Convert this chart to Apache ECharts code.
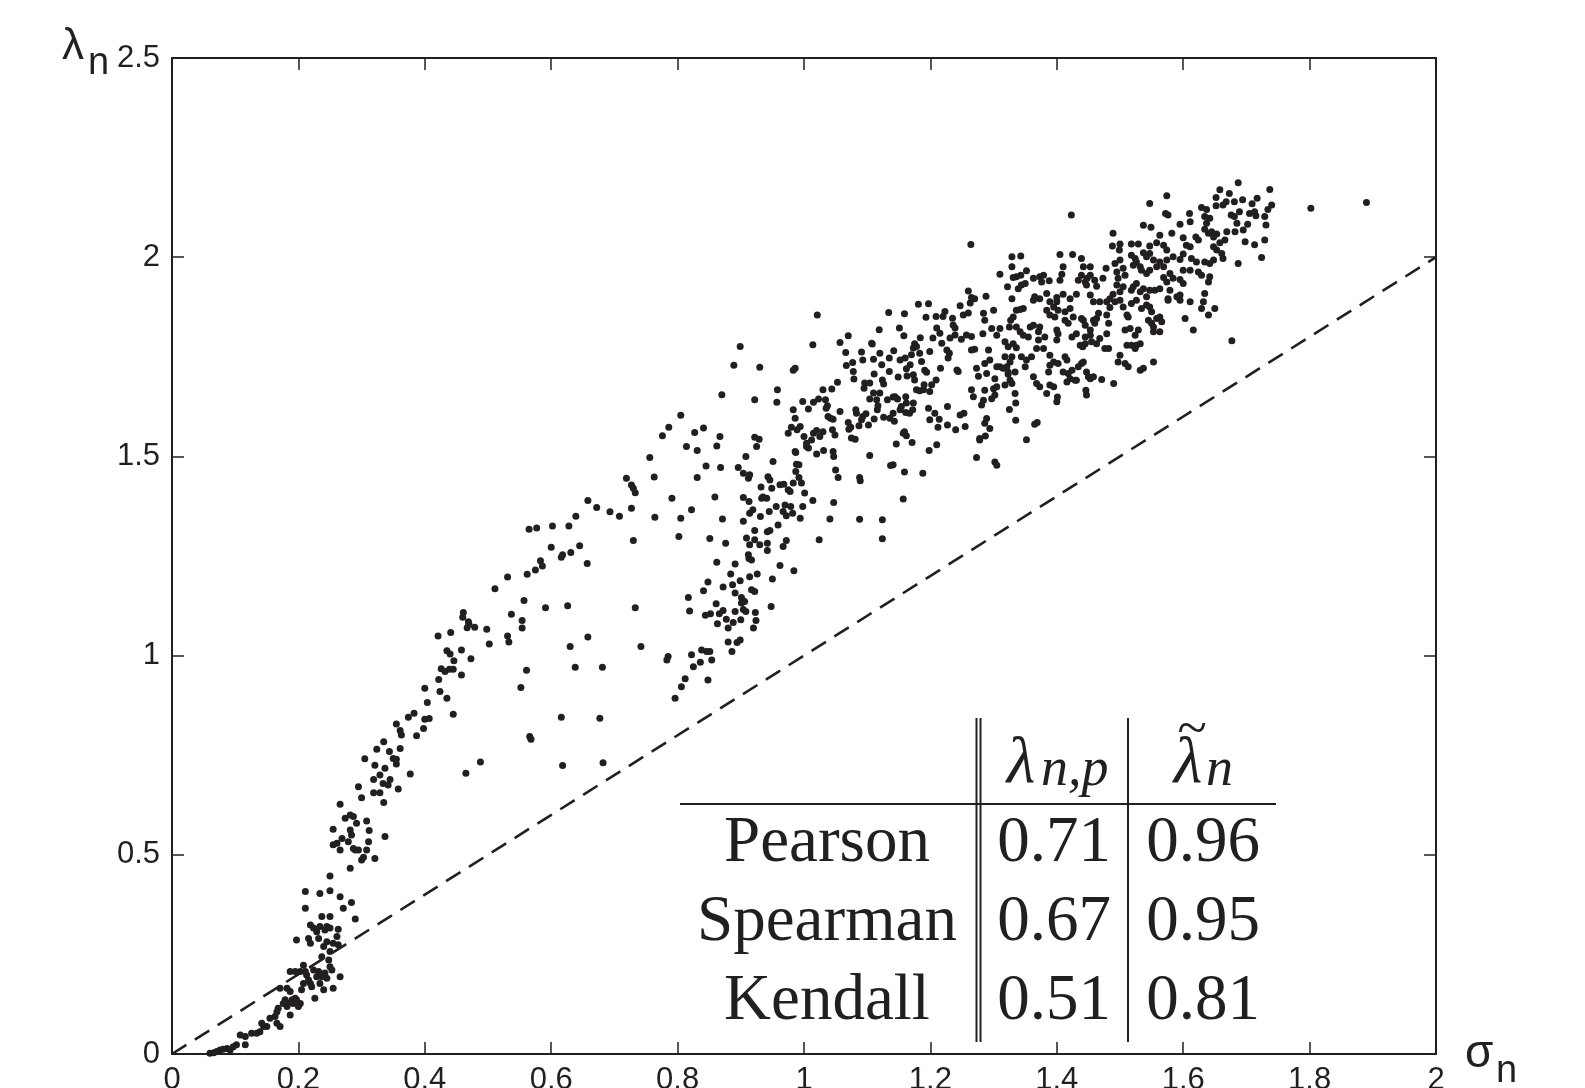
<!DOCTYPE html>
<html><head><meta charset="utf-8">
<script src="https://cdn.jsdelivr.net/npm/echarts@6/dist/echarts.min.js"></script>
<style>html,body{margin:0;padding:0;background:#fff}#c{width:1585px;height:1088px}</style>
</head><body><div id="c"></div>
<script>
// ---------- data ----------
const xRange = [0, 2];
const yRange = [0, 2.5];
const xStep = 0.2;
const yStep = 0.5;
const refLine = [[0, 0], [2, 2]];
const tableHeader = ['λ', 'n,p', 'λ', 'n'];
const tableRows = ['Pearson', 'Spearman', 'Kendall'];
const lambdaNP = ['0.71', '0.67', '0.51'];
const lambdaTilde = ['0.96', '0.95', '0.81'];

const pointsLow = [[0.060,0.002],[0.066,0.003],[0.071,0.006],[0.076,0.010],[0.081,0.012],[0.087,0.014],[0.092,0.010],[0.097,0.018],[0.102,0.023],[0.108,0.048],[0.116,0.044],[0.116,0.023],[0.126,0.052],[0.134,0.052],[0.139,0.056],[0.145,0.069],[0.142,0.077],[0.150,0.069],[0.155,0.090],[0.163,0.094],[0.166,0.106],[0.168,0.115],[0.166,0.077],[0.171,0.069],[0.176,0.127],[0.179,0.136],[0.182,0.119],[0.184,0.127],[0.187,0.098],[0.190,0.136],[0.192,0.127],[0.195,0.140],[0.197,0.136],[0.200,0.119],[0.203,0.127],[0.182,0.165],[0.187,0.157],[0.171,0.165],[0.187,0.207],[0.195,0.207],[0.203,0.207],[0.208,0.223],[0.211,0.207],[0.213,0.198],[0.216,0.186],[0.219,0.177],[0.208,0.177],[0.205,0.161],[0.221,0.169],[0.224,0.211],[0.229,0.194],[0.232,0.207],[0.234,0.177],[0.237,0.194],[0.240,0.161],[0.242,0.203],[0.245,0.190],[0.250,0.219],[0.253,0.211],[0.255,0.165],[0.266,0.194],[0.226,0.140],[0.197,0.286],[0.216,0.290],[0.219,0.324],[0.224,0.316],[0.229,0.307],[0.234,0.320],[0.242,0.311],[0.245,0.320],[0.250,0.316],[0.263,0.313],[0.261,0.295],[0.263,0.274],[0.255,0.278],[0.245,0.282],[0.240,0.270],[0.237,0.244],[0.248,0.236],[0.250,0.257],[0.219,0.278],[0.232,0.290],[0.237,0.345],[0.250,0.345],[0.290,0.339],[0.211,0.408],[0.211,0.366],[0.234,0.403],[0.250,0.410],[0.266,0.395],[0.271,0.366],[0.284,0.380],[0.250,0.447],[0.282,0.466],[0.255,0.525],[0.261,0.529],[0.266,0.512],[0.269,0.541],[0.266,0.627],[0.255,0.564],[0.274,0.592],[0.282,0.600],[0.287,0.596],[0.292,0.579],[0.282,0.562],[0.284,0.550],[0.279,0.533],[0.287,0.516],[0.290,0.512],[0.295,0.512],[0.300,0.487],[0.303,0.494],[0.308,0.512],[0.311,0.533],[0.308,0.585],[0.312,0.561],[0.321,0.491],[0.337,0.546],[0.335,0.631]];

const pointsUpperBranch = [[0.295,0.671],[0.300,0.643],[0.319,0.656],[0.329,0.656],[0.319,0.689],[0.329,0.700],[0.334,0.679],[0.342,0.675],[0.345,0.689],[0.337,0.717],[0.321,0.725],[0.305,0.741],[0.324,0.765],[0.335,0.784],[0.344,0.759],[0.350,0.742],[0.355,0.740],[0.355,0.728],[0.358,0.665],[0.361,0.767],[0.377,0.703],[0.355,0.828],[0.361,0.812],[0.363,0.801],[0.374,0.845],[0.383,0.855],[0.387,0.799],[0.398,0.817],[0.400,0.840],[0.407,0.842],[0.400,0.918],[0.404,0.882],[0.424,0.910],[0.435,0.893],[0.445,0.853],[0.422,0.940],[0.426,0.967],[0.432,0.960],[0.439,0.966],[0.445,0.966],[0.446,0.987],[0.435,1.012],[0.440,1.004],[0.421,1.049],[0.441,1.058],[0.458,1.014],[0.473,0.992],[0.458,0.951],[0.461,1.108],[0.460,1.096],[0.469,1.085],[0.467,1.070],[0.470,1.079],[0.479,1.071],[0.498,1.066],[0.502,1.029],[0.531,1.049],[0.533,1.034],[0.537,1.104],[0.554,1.088],[0.554,1.069],[0.557,1.138],[0.561,0.963],[0.552,0.920],[0.511,1.168],[0.531,1.197],[0.562,1.204],[0.575,1.215],[0.583,1.238],[0.586,1.225],[0.565,1.317],[0.577,1.320],[0.602,1.325],[0.628,1.325],[0.639,1.350],[0.658,1.389],[0.672,1.372],[0.693,1.361],[0.708,1.350],[0.727,1.370],[0.719,1.445],[0.727,1.428],[0.730,1.420],[0.733,1.409],[0.763,1.448],[0.764,1.347],[0.730,1.289],[0.733,1.120],[0.742,1.023],[0.658,1.047],[0.630,1.023],[0.638,0.971],[0.681,0.971],[0.626,1.125],[0.591,1.120],[0.600,1.272],[0.616,1.247],[0.618,1.253],[0.631,1.259],[0.645,1.276],[0.657,1.231],[0.616,0.845],[0.677,0.843],[0.566,0.797],[0.568,0.790],[0.618,0.724],[0.682,0.731],[0.465,0.705],[0.488,0.733],[0.756,1.497]];

const pointsMid = [[0.776,1.552],[0.786,1.573],[0.805,1.603],[0.827,1.560],[0.841,1.571],[0.867,1.550],[0.862,1.526],[0.831,1.515],[0.814,1.525],[0.870,1.655],[0.889,1.729],[0.899,1.776],[0.930,1.724],[0.922,1.642],[0.925,1.525],[0.929,1.543],[0.922,1.548],[0.908,1.500],[0.896,1.472],[0.904,1.458],[0.912,1.445],[0.914,1.454],[0.845,1.476],[0.831,1.447],[0.868,1.472],[0.791,1.395],[0.822,1.366],[0.805,1.345],[0.802,1.299],[0.859,1.398],[0.871,1.343],[0.851,1.294],[0.876,1.282],[0.862,1.234],[0.848,1.185],[0.841,1.163],[0.872,1.172],[0.817,1.146],[0.819,1.112],[0.844,1.101],[0.852,1.105],[0.861,1.130],[0.863,1.080],[0.866,1.105],[0.872,1.113],[0.877,1.091],[0.880,1.069],[0.888,1.083],[0.884,1.205],[0.891,1.230],[0.887,1.178],[0.891,1.157],[0.891,1.111],[0.899,1.188],[0.901,1.132],[0.904,1.116],[0.900,1.090],[0.906,1.136],[0.908,1.111],[0.901,1.146],[0.914,1.198],[0.917,1.165],[0.922,1.161],[0.926,1.205],[0.923,1.108],[0.924,1.088],[0.920,1.069],[0.880,1.034],[0.886,1.010],[0.894,1.033],[0.899,1.039],[0.838,1.014],[0.846,1.010],[0.851,1.010],[0.854,0.989],[0.836,0.983],[0.822,1.002],[0.825,0.972],[0.783,0.989],[0.785,0.998],[0.812,0.942],[0.806,0.922],[0.796,0.893],[0.848,0.939],[0.948,1.123],[0.962,1.226],[0.950,1.192],[0.984,1.213],
[0.904,1.337],[0.904,1.397],[0.913,1.387],[0.914,1.357],[0.919,1.366],[0.922,1.314],[0.909,1.295],[0.914,1.278],[0.922,1.291],[0.930,1.278],[0.931,1.349],[0.933,1.395],[0.932,1.423],[0.935,1.398],[0.941,1.395],[0.943,1.449],[0.946,1.441],[0.949,1.420],[0.945,1.362],[0.942,1.311],[0.942,1.282],[0.942,1.264],[0.946,1.314],[0.951,1.487],[0.956,1.374],[0.959,1.328],[0.962,1.429],[0.967,1.362],[0.968,1.430],[0.970,1.378],[0.972,1.351],[0.975,1.416],[0.978,1.412],[0.979,1.374],[0.982,1.357],[0.983,1.433],[0.987,1.462],[0.988,1.480],[0.992,1.447],[0.996,1.433],[0.994,1.345],[0.998,1.374],[1.001,1.408],[1.014,1.389],[0.967,1.274],[0.972,1.289],[0.913,1.244],[0.912,1.253],[0.917,1.240]];

const pointsBand = [[0.958,1.667],[0.957,1.636],[0.983,1.716],[0.986,1.721],[0.983,1.617],[0.986,1.596],[0.975,1.558],[0.980,1.573],[0.994,1.575],[0.989,1.567],[0.998,1.638],[1.007,1.619],[1.015,1.636],[1.023,1.644],[1.030,1.667],[1.034,1.642],[1.037,1.627],[1.035,1.621],[1.044,1.669],[1.053,1.686],[1.038,1.600],[1.042,1.596],[1.046,1.593],[1.057,1.613],[1.045,1.567],[1.049,1.554],[1.030,1.562],[1.025,1.550],[1.020,1.565],[1.015,1.558],[1.012,1.541],[1.004,1.533],[1.000,1.550],[1.004,1.525],[1.007,1.521],[1.020,1.506],[1.031,1.515],[1.046,1.512],[1.047,1.500],[1.050,1.466],[1.054,1.447],[0.986,1.512],[0.987,1.510],[0.992,1.479],[1.047,1.384],[1.041,1.343],[1.024,1.291],[1.088,1.447],[1.089,1.439],[1.088,1.342],[1.104,1.502],[1.124,1.341],[1.124,1.293],[1.014,1.780],[1.021,1.855],[1.057,1.786],[1.066,1.761],[1.070,1.803],[1.067,1.728],[1.077,1.736],[1.078,1.713],[1.079,1.694],[1.070,1.585],[1.071,1.568],[1.074,1.573],[1.075,1.546],[1.081,1.543],[1.082,1.617],[1.083,1.608],[1.087,1.577],[1.091,1.592],[1.093,1.600],[1.098,1.607],[1.102,1.579],[1.104,1.644],[1.110,1.659],[1.111,1.707],[1.115,1.642],[1.117,1.627],[1.120,1.659],[1.124,1.692],[1.126,1.682],[1.132,1.642],[1.126,1.598],[1.136,1.596],[1.141,1.608],[1.143,1.588],[1.141,1.649],[1.135,1.713],[1.135,1.747],[1.123,1.730],[1.120,1.759],[1.110,1.744],[1.108,1.782],[1.107,1.784],[1.093,1.742],[1.091,1.762],[1.095,1.671],[1.096,1.684],[1.104,1.684],[1.119,1.818],[1.134,1.861],[1.142,1.765],[1.151,1.822],[1.158,1.803],[1.159,1.858],[1.152,1.742],[1.160,1.747],[1.162,1.720],[1.163,1.702],[1.168,1.730],[1.170,1.755],[1.173,1.705],[1.175,1.692],[1.178,1.667],[1.183,1.665],[1.189,1.667],[1.194,1.711],[1.191,1.716],[1.186,1.738],[1.183,1.759],[1.184,1.798],[1.178,1.776],[1.175,1.783],[1.173,1.772],[1.181,1.882],[1.197,1.883],[1.193,1.849],[1.199,1.763],[1.204,1.797],[1.209,1.851],[1.210,1.822],[1.215,1.809],[1.218,1.784],[1.220,1.851],[1.223,1.864],[1.226,1.767],[1.230,1.759],[1.228,1.747],[1.231,1.797],[1.235,1.847],[1.236,1.830],[1.239,1.822],[1.239,1.805],[1.242,1.717],[1.244,1.713],[1.247,1.878],[1.252,1.855],[1.257,1.805],[1.260,1.860],[1.263,1.885],[1.265,1.801],[1.265,1.767],[1.270,1.769],[1.273,1.721],[1.276,1.701],[1.249,1.794],[1.216,1.721],[1.209,1.692],[1.202,1.680],[1.199,1.663],[1.190,1.680],[1.173,1.634],[1.172,1.617],[1.162,1.634],[1.161,1.610],[1.167,1.608],[1.161,1.650],[1.154,1.625],[1.152,1.617],[1.148,1.644],[1.159,1.562],[1.162,1.552],[1.157,1.558],[1.171,1.535],[1.159,1.461],[1.146,1.531],[1.137,1.477],[1.141,1.479],[1.157,1.393],[1.188,1.458],[1.197,1.621],[1.207,1.608],[1.199,1.592],[1.214,1.593],[1.212,1.573],[1.227,1.625],[1.227,1.579],[1.240,1.567],[1.247,1.604],[1.253,1.608],[1.255,1.575],[1.210,1.529],[1.198,1.515],[1.265,1.667],[1.268,1.650],[1.278,1.541],[1.273,1.497],[1.144,1.650],[1.149,1.699],[1.116,1.617],[1.111,1.594]];

const pointsUpper = [[1.264,2.032],[1.260,1.915],[1.265,1.899],[1.270,1.896],[1.329,2.001],[1.343,2.003],[1.329,1.976],[1.310,1.957],[1.331,1.949],[1.336,1.951],[1.343,1.955],[1.352,1.966],[1.322,1.926],[1.339,1.921],[1.344,1.930],[1.350,1.934],[1.363,1.947],[1.373,1.951],[1.379,1.955],[1.376,1.938],[1.388,1.941],[1.329,1.896],[1.288,1.902],[1.405,2.007],[1.425,2.007],[1.439,1.997],[1.410,1.976],[1.408,1.957],[1.405,1.942],[1.434,1.942],[1.439,1.955],[1.442,1.976],[1.453,1.976],[1.445,1.938],[1.448,1.947],[1.453,1.955],[1.460,1.942],[1.447,1.930],[1.463,1.927],[1.473,1.947],[1.478,1.972],[1.492,1.984],[1.489,2.060],[1.488,2.028],[1.500,2.033],[1.499,2.018],[1.500,1.993],[1.518,2.033],[1.529,2.033],[1.518,2.005],[1.524,1.997],[1.526,1.988],[1.521,1.980],[1.537,2.080],[1.549,2.075],[1.547,2.028],[1.558,2.036],[1.563,2.055],[1.569,2.030],[1.574,2.018],[1.582,2.060],[1.595,2.083],[1.611,2.089],[1.600,2.049],[1.605,2.030],[1.611,2.026],[1.620,2.051],[1.624,2.043],[1.634,2.070],[1.637,2.085],[1.640,2.060],[1.645,2.064],[1.648,2.051],[1.653,2.058],[1.658,2.036],[1.666,2.043],[1.669,2.064],[1.682,2.064],[1.685,2.085],[1.695,2.068],[1.698,2.039],[1.702,2.083],[1.648,2.026],[1.653,2.018],[1.661,2.009],[1.663,1.997],[1.648,1.993],[1.642,1.984],[1.634,1.988],[1.621,1.988],[1.613,1.997],[1.600,2.008],[1.595,1.994],[1.584,2.001],[1.574,1.993],[1.563,1.988],[1.553,1.993],[1.547,2.009],[1.542,2.001],[1.537,2.011],[1.532,1.976],[1.547,1.967],[1.558,1.976],[1.569,1.976],[1.579,1.959],[1.569,1.949],[1.574,1.938],[1.584,1.947],[1.595,1.944],[1.600,1.967],[1.611,1.967],[1.624,1.963],[1.629,1.955],[1.640,1.938],[1.642,1.951],[1.600,1.934],[1.579,1.917],[1.595,1.905],[1.576,1.896],[1.563,1.921],[1.555,1.917],[1.547,1.917],[1.537,1.921],[1.526,1.934],[1.521,1.926],[1.532,1.913],[1.534,1.967],[1.542,1.959],[1.495,1.963],[1.505,1.972],[1.508,1.955],[1.497,1.947],[1.495,1.930],[1.505,1.926],[1.518,1.917],[1.500,1.913],[1.489,1.907],[1.484,1.896],[1.479,1.888],[1.468,1.888],[1.458,1.888],[1.453,1.905],[1.431,1.907],[1.421,1.896],[1.410,1.907],[1.400,1.899],[1.384,1.909],[1.389,1.888],[1.373,1.896],[1.365,1.901],[1.363,1.892],
[1.284,1.859],[1.300,1.867],[1.286,1.842],[1.297,1.821],[1.283,1.808],[1.305,1.804],[1.310,1.821],[1.336,1.867],[1.342,1.869],[1.347,1.871],[1.331,1.850],[1.327,1.842],[1.325,1.825],[1.336,1.825],[1.342,1.813],[1.358,1.825],[1.363,1.829],[1.373,1.825],[1.371,1.813],[1.381,1.800],[1.371,1.792],[1.379,1.771],[1.368,1.771],[1.347,1.804],[1.355,1.800],[1.331,1.783],[1.318,1.788],[1.323,1.775],[1.336,1.773],[1.329,1.750],[1.318,1.750],[1.326,1.737],[1.321,1.725],[1.315,1.721],[1.310,1.725],[1.305,1.725],[1.292,1.767],[1.294,1.742],[1.286,1.733],[1.289,1.708],[1.302,1.695],[1.323,1.706],[1.326,1.691],[1.329,1.683],[1.318,1.679],[1.305,1.675],[1.300,1.670],[1.302,1.654],[1.297,1.645],[1.286,1.666],[1.284,1.641],[1.281,1.629],[1.289,1.595],[1.286,1.583],[1.294,1.570],[1.278,1.545],[1.287,1.551],[1.325,1.618],[1.334,1.658],[1.335,1.634],[1.335,1.591],[1.323,1.712],[1.334,1.712],[1.344,1.750],[1.350,1.725],[1.352,1.742],[1.360,1.750],[1.363,1.700],[1.368,1.683],[1.373,1.675],[1.384,1.658],[1.389,1.679],[1.395,1.675],[1.401,1.649],[1.400,1.637],[1.387,1.712],[1.389,1.729],[1.389,1.754],[1.395,1.737],[1.402,1.733],[1.413,1.750],[1.416,1.742],[1.410,1.712],[1.418,1.708],[1.421,1.695],[1.424,1.716],[1.429,1.691],[1.431,1.691],[1.416,1.687],[1.434,1.725],[1.439,1.733],[1.442,1.737],[1.447,1.712],[1.450,1.700],[1.453,1.695],[1.458,1.700],[1.471,1.693],[1.490,1.683],[1.446,1.666],[1.447,1.654],[1.437,1.779],[1.441,1.775],[1.445,1.783],[1.431,1.808],[1.424,1.800],[1.418,1.834],[1.413,1.842],[1.400,1.817],[1.402,1.808],[1.400,1.792],[1.397,1.850],[1.389,1.855],[1.384,1.867],[1.395,1.875],[1.402,1.867],[1.400,1.888],[1.413,1.863],[1.421,1.871],[1.426,1.850],[1.439,1.846],[1.442,1.842],[1.445,1.829],[1.453,1.817],[1.458,1.842],[1.460,1.834],[1.463,1.846],[1.466,1.859],[1.479,1.855],[1.482,1.834],[1.479,1.808],[1.468,1.796],[1.463,1.783],[1.476,1.771],[1.482,1.771],[1.453,1.804],[1.455,1.788],[1.445,1.800],[1.484,1.874],[1.492,1.888],[1.500,1.892],[1.505,1.875],[1.511,1.855],[1.513,1.850],[1.508,1.817],[1.516,1.821],[1.524,1.804],[1.529,1.817],[1.511,1.779],[1.518,1.779],[1.524,1.771],[1.526,1.779],[1.532,1.783],[1.500,1.754],[1.497,1.737],[1.508,1.733],[1.513,1.725],[1.532,1.716],[1.537,1.721],[1.553,1.737],[1.518,1.884],[1.526,1.892],[1.534,1.871],[1.542,1.880],[1.547,1.875],[1.550,1.863],[1.545,1.842],[1.550,1.834],[1.553,1.825],[1.558,1.846],[1.563,1.850],[1.566,1.838],[1.563,1.813],[1.553,1.813],[1.542,1.901],[1.576,1.892],[1.590,1.901],[1.595,1.892],[1.603,1.846],[1.611,1.888],[1.616,1.817],[1.629,1.871],[1.634,1.909],[1.640,1.855],[1.650,1.871],[1.677,1.790],[1.687,1.984],[1.632,1.888],[1.302,1.486],[1.305,1.478],[1.365,1.581],[1.369,1.585],[1.352,1.542]];

const pointsTop = [[1.574,2.154],[1.547,2.135],[1.572,2.110],[1.576,2.106],[1.610,2.110],[1.629,2.125],[1.637,2.120],[1.634,2.102],[1.642,2.098],[1.658,2.169],[1.652,2.150],[1.673,2.160],[1.668,2.139],[1.663,2.131],[1.652,2.129],[1.687,2.187],[1.681,2.139],[1.694,2.144],[1.689,2.114],[1.681,2.102],[1.676,2.106],[1.705,2.110],[1.709,2.134],[1.717,2.148],[1.715,2.104],[1.713,2.114],[1.737,2.170],[1.740,2.131],[1.734,2.120],[1.729,2.102],[1.731,2.081],[1.729,2.043],[1.724,1.999],[1.713,2.031],[1.802,2.123],[1.890,2.137],[1.423,2.106]];

const points = [].concat(pointsLow, pointsUpperBranch, pointsMid, pointsBand, pointsUpper, pointsTop);

// ---------- chart ----------
const INK = '#231f20';
const SANS = '"Liberation Sans", Arial, Helvetica, sans-serif';
const SERIF = '"Liberation Serif", "Times New Roman", serif';
const chart = echarts.init(document.getElementById('c'));

function fmt(v) { return String(+(+v).toFixed(1)); }

function axisBase(extra) {
  return Object.assign({
    type: 'value',
    axisLine: { show: true, onZero: false, lineStyle: { color: INK, width: 2 } },
    axisTick: { show: true, inside: true, length: 12, lineStyle: { color: INK, width: 1.5 } },
    splitLine: { show: false },
    axisLabel: { show: false }
  }, extra);
}
const labelStyle = (margin) => ({ show: true, margin: margin, fontSize: 31, color: INK, fontFamily: SANS, formatter: fmt });

// 'middle' aligned text, shifted so the baseline lands on the given y
function txt(str, x, baseline, fs, family, align, style) {
  const k = family === SERIF ? 0.3375 : 0.3465;
  return {
    type: 'text', silent: true,
    x: x, y: baseline - k * fs,
    style: {
      text: str, fill: INK,
      font: (style || '') + ' ' + fs + 'px ' + family,
      align: align, textAlign: align,
      verticalAlign: 'middle', textVerticalAlign: 'middle'
    }
  };
}
function ln(x1, y1, x2, y2) {
  return { type: 'line', silent: true, shape: { x1, y1, x2, y2 }, style: { stroke: INK, lineWidth: 2 } };
}

const rowBase = [866, 945, 1024];
const graphics = [
  // axis names
  txt('λ', 62, 62, 44, SANS, 'left'),
  txt('n', 88, 77, 38, SANS, 'left'),
  txt('σ', 1465, 1070, 46, SANS, 'left'),
  txt('n', 1496, 1085, 38, SANS, 'left'),
  // table rules
  ln(680, 804, 1276, 804),
  ln(976.5, 718, 976.5, 1042),
  ln(980.5, 718, 980.5, 1042),
  ln(1128, 718, 1128, 1042),
  // table header
  txt(tableHeader[0], 1021, 787, 66, SERIF, 'center', 'italic'),
  txt(tableHeader[1], 1041, 789, 54, SERIF, 'left', 'italic'),
  txt(tableHeader[2], 1188, 787, 66, SERIF, 'center', 'italic'),
  txt(tableHeader[3], 1206, 789, 54, SERIF, 'left', 'italic'),
  txt('~', 1192, 750, 54, SERIF, 'center')
];
tableRows.forEach((r, i) => {
  graphics.push(txt(r, 827, rowBase[i], 65, SERIF, 'center'));
  graphics.push(txt(lambdaNP[i], 1054, rowBase[i], 65, SERIF, 'center'));
  graphics.push(txt(lambdaTilde[i], 1203, rowBase[i], 65, SERIF, 'center'));
});

chart.setOption({
  animation: false,
  backgroundColor: '#ffffff',
  textStyle: { fontFamily: SANS },
  grid: { left: 172, right: 149, top: 58, bottom: 34, containLabel: false, outerBoundsMode: 'none' },
  xAxis: [
    axisBase({ position: 'bottom', min: xRange[0], max: xRange[1], interval: xStep, axisLabel: labelStyle(11) }),
    axisBase({ position: 'top', min: xRange[0], max: xRange[1], interval: xStep })
  ],
  yAxis: [
    axisBase({ position: 'left', min: yRange[0], max: yRange[1], interval: yStep, axisLabel: labelStyle(12) }),
    axisBase({ position: 'right', min: yRange[0], max: yRange[1], interval: yStep })
  ],
  series: [
    {
      type: 'line', data: refLine, xAxisIndex: 0, yAxisIndex: 0,
      showSymbol: false, symbol: 'none', silent: true, z: 1,
      lineStyle: { color: INK, width: 2.6, type: [17, 10] }
    },
    {
      type: 'scatter', data: points, xAxisIndex: 0, yAxisIndex: 0,
      symbol: 'circle', symbolSize: 7, silent: true, z: 2,
      itemStyle: { color: INK, opacity: 1 }
    }
  ],
  graphic: { elements: graphics }
});
</script>
</body></html>
